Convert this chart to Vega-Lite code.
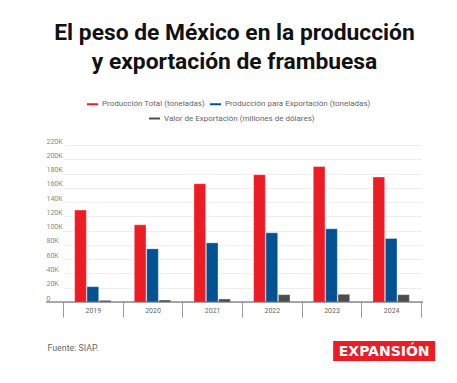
{
  "$schema": "https://vega.github.io/schema/vega-lite/v6.json",
  "width": 377,
  "height": 157,
  "autosize": "none",
  "padding": {"left": 46, "top": 145, "right": 34, "bottom": 81},
  "background": "white",
  "config": {"font": "Roboto", "view": {"stroke": null}},
  "title": {
    "text": ["El peso de México en la producción", "y exportación de frambuesa"],
    "anchor": "middle",
    "frame": "group",
    "font": "Roboto",
    "fontSize": 22.8,
    "fontWeight": "bold",
    "color": "#111111",
    "lineHeight": 29,
    "offset": 25
  },
  "data": {
    "values": [
      {"year": "2019", "serie": "Producción Total (toneladas)", "value": 128800},
      {"year": "2020", "serie": "Producción Total (toneladas)", "value": 108200},
      {"year": "2021", "serie": "Producción Total (toneladas)", "value": 165800},
      {"year": "2022", "serie": "Producción Total (toneladas)", "value": 178400},
      {"year": "2023", "serie": "Producción Total (toneladas)", "value": 189700},
      {"year": "2024", "serie": "Producción Total (toneladas)", "value": 175100},
      {"year": "2019", "serie": "Producción para Exportación (toneladas)", "value": 21500},
      {"year": "2020", "serie": "Producción para Exportación (toneladas)", "value": 74500},
      {"year": "2021", "serie": "Producción para Exportación (toneladas)", "value": 82900},
      {"year": "2022", "serie": "Producción para Exportación (toneladas)", "value": 96900},
      {"year": "2023", "serie": "Producción para Exportación (toneladas)", "value": 102600},
      {"year": "2024", "serie": "Producción para Exportación (toneladas)", "value": 89000},
      {"year": "2019", "serie": "Valor de Exportación (millones de dólares)", "value": 2300},
      {"year": "2020", "serie": "Valor de Exportación (millones de dólares)", "value": 2800},
      {"year": "2021", "serie": "Valor de Exportación (millones de dólares)", "value": 4200},
      {"year": "2022", "serie": "Valor de Exportación (millones de dólares)", "value": 10300},
      {"year": "2023", "serie": "Valor de Exportación (millones de dólares)", "value": 10800},
      {"year": "2024", "serie": "Valor de Exportación (millones de dólares)", "value": 10300}
    ]
  },
  "encoding": {
    "x": {
      "field": "year",
      "type": "nominal",
      "scale": {"range": [17, 375], "paddingInner": 0, "paddingOuter": 0},
      "axis": {
        "orient": "bottom",
        "domain": false,
        "tickBand": "extent",
        "tickSize": 15,
        "tickColor": "#9a9a9a",
        "tickWidth": 1,
        "labelAngle": 0,
        "labelFont": "Roboto",
        "labelFontSize": 7,
        "labelColor": "#666666",
        "labelPadding": -11,
        "title": "Fuente: SIAP.",
        "titleFont": "Roboto",
        "titleFontSize": 8.8,
        "titleFontWeight": 400,
        "titleColor": "#666666",
        "titleAnchor": "start",
        "titleAlign": "left",
        "titleBaseline": "middle",
        "titleX": 1,
        "titleY": 45
      }
    },
    "y": {
      "field": "value",
      "type": "quantitative",
      "scale": {"domain": [0, 220000], "nice": false},
      "axis": {
        "orient": "left",
        "domain": false,
        "ticks": false,
        "tickSize": 0,
        "grid": true,
        "gridColor": "#eeeeee",
        "gridWidth": 1,
        "values": [0, 20000, 40000, 60000, 80000, 100000, 120000, 140000, 160000, 180000, 200000, 220000],
        "labelExpr": "datum.value === 0 ? '0' : (datum.value / 1000) + 'K'",
        "labelAlign": "left",
        "labelBaseline": "bottom",
        "labelPadding": 0,
        "labelOffset": -1,
        "labelFont": "Roboto",
        "labelFontSize": 7,
        "labelColor": "#888888",
        "title": null
      }
    },
    "xOffset": {
      "field": "serie",
      "type": "nominal",
      "scale": {
        "domain": ["Producción Total (toneladas)", "Producción para Exportación (toneladas)", "Valor de Exportación (millones de dólares)"],
        "paddingInner": 0.05,
        "paddingOuter": 0.94
      }
    }
  },
  "layer": [
    {
      "transform": [{"filter": "datum.serie !== 'Valor de Exportación (millones de dólares)'"}],
      "mark": {"type": "bar", "stroke": "white", "strokeWidth": 0.6, "strokeOpacity": 0.6},
      "encoding": {
        "color": {
          "field": "serie",
          "type": "nominal",
          "scale": {
            "domain": ["Producción Total (toneladas)", "Producción para Exportación (toneladas)"],
            "range": ["#ed1c24", "#005293"]
          },
          "legend": {
            "orient": "none",
            "legendX": 41,
            "legendY": -46.5,
            "direction": "horizontal",
            "title": null,
            "symbolType": "M-1,-0.18H1V0.18H-1Z",
            "symbolSize": 121,
            "symbolStrokeWidth": 0,
            "labelFont": "Roboto",
            "labelFontSize": 8,
            "labelColor": "#666666",
            "labelOffset": 4,
            "labelLimit": 300,
            "columnPadding": 5
          }
        }
      }
    },
    {
      "transform": [{"filter": "datum.serie === 'Valor de Exportación (millones de dólares)'"}],
      "mark": {"type": "bar", "stroke": "white", "strokeWidth": 0.6, "strokeOpacity": 0.6},
      "encoding": {
        "fill": {
          "field": "serie",
          "type": "nominal",
          "scale": {
            "domain": ["Valor de Exportación (millones de dólares)"],
            "range": ["#4d4d4d"]
          },
          "legend": {
            "orient": "none",
            "legendX": 103,
            "legendY": -32,
            "direction": "horizontal",
            "title": null,
            "symbolType": "M-1,-0.18H1V0.18H-1Z",
            "symbolSize": 121,
            "symbolStrokeWidth": 0,
            "labelFont": "Roboto",
            "labelFontSize": 8,
            "labelColor": "#666666",
            "labelOffset": 4,
            "labelLimit": 300
          }
        }
      }
    },
    {
      "data": {"values": [{"base": 0}]},
      "mark": {"type": "rule", "color": "#555555", "strokeWidth": 1.2},
      "encoding": {"y": {"field": "base", "type": "quantitative"}, "x": null, "xOffset": null}
    },
    {
      "data": {"values": [{"logo": "EXPANSIÓN", "year": "2024", "top": -54650, "bottom": -82700}]},
      "mark": {"type": "bar", "color": "#ed1c24", "width": 102, "xOffset": -7},
      "encoding": {
        "x": {"field": "year", "type": "nominal"},
        "y": {"field": "top", "type": "quantitative"},
        "y2": {"field": "bottom"},
        "xOffset": null
      }
    },
    {
      "data": {"values": [{"logo": "EXPANSIÓN", "year": "2024", "base": -75700}]},
      "mark": {"type": "text", "font": "DejaVu Sans", "fontWeight": "bold", "fontSize": 14, "color": "white", "baseline": "alphabetic", "align": "center", "dx": -7},
      "encoding": {
        "x": {"field": "year", "type": "nominal"},
        "y": {"field": "base", "type": "quantitative"},
        "text": {"field": "logo"},
        "xOffset": null
      }
    }
  ]
}
